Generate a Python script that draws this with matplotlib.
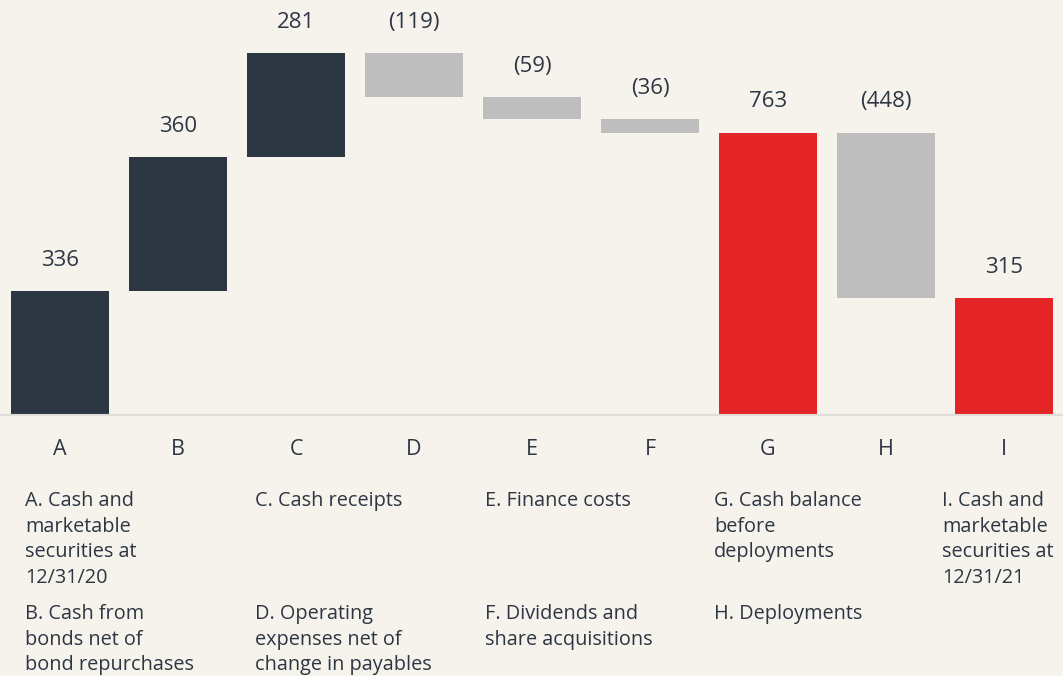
import matplotlib.pyplot as plt
import numpy as np

# Waterfall data
steps = ["A", "B", "C", "D", "E", "F", "G", "H", "I"]
values = [336, 360, 281, -119, -59, -36, 763, -448, 315]
is_total = [True, False, False, False, False, False, True, False, True]
labels = ["336", "360", "281", "(119)", "(59)", "(36)", "763", "(448)", "315"]

notes_top = ["A. Cash and\nmarketable\nsecurities at\n12/31/20", "C. Cash receipts",
             "E. Finance costs", "G. Cash balance\nbefore\ndeployments",
             "I. Cash and\nmarketable\nsecurities at\n12/31/21"]
notes_bottom = ["B. Cash from\nbonds net of\nbond repurchases",
                "D. Operating\nexpenses net of\nchange in payables",
                "F. Dividends and\nshare acquisitions", "H. Deployments", ""]

bg = "#f5f3ec"
navy = "#2d3743"
red = "#e32528"
grey = "#bebebe"
txt = "#2d3642"

plt.rcParams["font.family"] = ["Open Sans", "DejaVu Sans"]

fig = plt.figure(figsize=(10.63, 6.76), dpi=100, facecolor=bg)
ax = fig.add_axes([0, 1 - 415 / 676, 1, 415 / 676])
ax.set_facecolor(bg)

bottoms, heights, colors = [], [], []
run = 0
for i, (v, tot) in enumerate(zip(values, is_total)):
    if tot:
        bottoms.append(0)
        heights.append(v)
        colors.append(navy if i == 0 else red)
        run = v
    elif v >= 0:
        bottoms.append(run)
        heights.append(v)
        colors.append(navy)
        run += v
    else:
        bottoms.append(run + v)
        heights.append(-v)
        colors.append(grey)
        run += v

x = np.arange(len(steps))
ax.bar(x, heights, bottom=bottoms, width=0.83, color=colors)

for xi, b, h, lab in zip(x, bottoms, heights, labels):
    ax.annotate(lab, (xi, b + h), xytext=(0, 22), textcoords="offset points",
                ha="center", va="center", fontsize=16, color=txt)

ax.set_xlim(-0.51, 8.5)
ax.set_ylim(0, 1121)
for s in ["top", "right", "left"]:
    ax.spines[s].set_visible(False)
ax.spines["bottom"].set_color("#e0ddd8")
ax.spines["bottom"].set_linewidth(1.5)
ax.set_yticks([])
ax.set_xticks(x)
ax.set_xticklabels(steps, fontsize=15.5, color=txt)
ax.tick_params(axis="x", length=0, pad=17)

col_x = [25, 255, 485, 714, 942]
for cx, t1, t2 in zip(col_x, notes_top, notes_bottom):
    fig.text(cx / 1063, 1 - 491 / 676, t1, ha="left", va="top", fontsize=14.3,
             color=txt, linespacing=1.38)
    if t2:
        fig.text(cx / 1063, 1 - 604 / 676, t2, ha="left", va="top", fontsize=14.3,
                 color=txt, linespacing=1.38)

fig.savefig("out.png", dpi=100, facecolor=bg)
